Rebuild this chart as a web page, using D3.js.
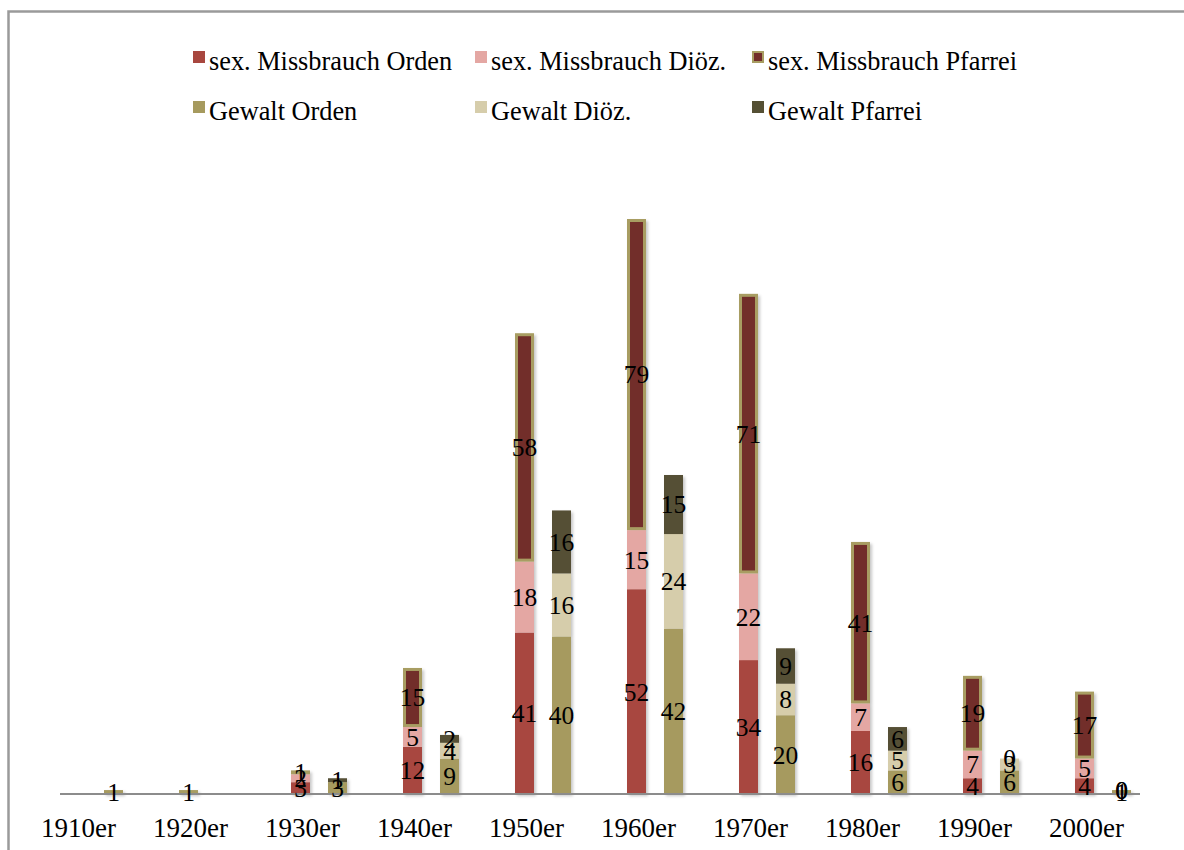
<!DOCTYPE html>
<html>
<head>
<meta charset="utf-8">
<script src="https://cdn.jsdelivr.net/npm/d3@7"></script>
<style>
  html, body { margin: 0; padding: 0; background: #fff; }
  svg { display: block; font-family: "Liberation Serif", "Times New Roman", serif; }
</style>
</head>
<body>
<svg id="chart" width="1184" height="850"></svg>
<script>
// Decades on the category axis
const categories = ["1910er", "1920er", "1930er", "1940er", "1950er", "1960er", "1970er", "1980er", "1990er", "2000er"];

// Sexual abuse, split by institution (null = no entry)
const sexOrden   = [null, null, 3, 12, 41, 52, 34, 16, 4, 4];
const sexDioez   = [null, null, 2, 5, 18, 15, 22, 7, 7, 5];
const sexPfarrei = [null, 1, 1, 15, 58, 79, 71, 41, 19, 17];

// Violence, split by institution
const gewOrden   = [1, null, 3, 9, 40, 42, 20, 6, 6, 1];
const gewDioez   = [null, null, null, 4, 16, 24, 8, 5, 3, 0];
const gewPfarrei = [null, null, 1, 2, 16, 15, 9, 6, 0, 0];

const seriesNames = ["sex. Missbrauch Orden", "sex. Missbrauch Diöz.", "sex. Missbrauch Pfarrei",
                     "Gewalt Orden", "Gewalt Diöz.", "Gewalt Pfarrei"];

const colors = {
  "sex. Missbrauch Orden": "#a8473f",
  "sex. Missbrauch Diöz.": "#e4a7a3",
  "sex. Missbrauch Pfarrei": "#722d2a",
  "Gewalt Orden": "#a69a5e",
  "Gewalt Diöz.": "#d6cdab",
  "Gewalt Pfarrei": "#555034"
};
const pfarreiBorder = "#a89d62";

const stacks = [
  { key: "sex", series: [
    { name: "sex. Missbrauch Orden", values: sexOrden },
    { name: "sex. Missbrauch Diöz.", values: sexDioez },
    { name: "sex. Missbrauch Pfarrei", values: sexPfarrei, border: true }
  ]},
  { key: "gewalt", series: [
    { name: "Gewalt Orden", values: gewOrden },
    { name: "Gewalt Diöz.", values: gewDioez },
    { name: "Gewalt Pfarrei", values: gewPfarrei }
  ]}
];

const svg = d3.select("#chart");
const baseY = 794;

const x = d3.scaleBand().domain(categories).range([20.5, 1140.5]).paddingInner(0).paddingOuter(0);
const xSub = d3.scaleBand().domain(stacks.map(s => s.key)).range([-9.5, 46.5]).paddingInner(18 / 37).paddingOuter(0);
const y = d3.scaleLinear().domain([0, 160]).range([baseY, baseY - 160 * 575 / 146]);

// soft shadow under the bars
const defs = svg.append("defs");
const f = defs.append("filter").attr("id", "shadow").attr("x", "-30%").attr("y", "-10%").attr("width", "160%").attr("height", "130%");
f.append("feDropShadow").attr("dx", 2).attr("dy", 2).attr("stdDeviation", 1.6)
  .attr("flood-color", "#000").attr("flood-opacity", 0.22);

// outer frame
svg.append("path")
  .attr("d", "M8.5,851 V11.5 H1190")
  .attr("fill", "none").attr("stroke", "#9a9a9a").attr("stroke-width", 2.5);

// Build stacked segments
const segments = [];
categories.forEach((cat, i) => {
  stacks.forEach(stack => {
    let cum = 0;
    stack.series.forEach(s => {
      const v = s.values[i];
      if (v === null || v === undefined) return;
      segments.push({ cat, stack: stack.key, name: s.name, value: v, y0: cum, y1: cum + v, border: !!s.border });
      cum += v;
    });
  });
});

const barG = svg.append("g").attr("filter", "url(#shadow)");
const bw = xSub.bandwidth();
const center = c => x(c) + x.bandwidth() / 2;

barG.selectAll("rect.seg")
  .data(segments.filter(d => d.value > 0))
  .join("rect")
  .attr("class", "seg")
  .attr("x", d => center(d.cat) + xSub(d.stack) + (d.border ? 1.5 : 0))
  .attr("width", d => bw - (d.border ? 3 : 0))
  .attr("y", d => y(d.y1) + (d.border ? 1.5 : 0))
  .attr("height", d => Math.max(0, y(d.y0) - y(d.y1) - (d.border ? 3 : 0)))
  .attr("fill", d => colors[d.name])
  .attr("stroke", d => d.border ? pfarreiBorder : "none")
  .attr("stroke-width", d => d.border ? 3 : 0);

// axis line
svg.append("line")
  .attr("x1", 60).attr("x2", 1140)
  .attr("y1", baseY).attr("y2", baseY)
  .attr("stroke", "#8c8c8c").attr("stroke-width", 2);

// value labels in the middle of each segment
svg.append("g").selectAll("text")
  .data(segments)
  .join("text")
  .attr("x", d => center(d.cat) + xSub(d.stack) + bw / 2)
  .attr("y", d => (y(d.y0) + y(d.y1)) / 2)
  .attr("dy", "0.35em")
  .attr("text-anchor", "middle")
  .attr("font-size", 25.5)
  .attr("fill", "#000")
  .text(d => d.value);

// category axis
const axis = d3.axisBottom(x).tickSize(0).tickPadding(24);
const axG = svg.append("g").attr("transform", `translate(2,${baseY})`).call(axis);
axG.select(".domain").remove();
axG.selectAll("text")
  .attr("font-family", "'Liberation Serif', 'Times New Roman', serif")
  .attr("font-size", 27)
  .attr("fill", "#000");

// legend: two rows of three
const legendX = [193, 475, 752];
const legendY = [51, 101];
const lg = svg.append("g");
seriesNames.forEach((name, i) => {
  const col = i % 3, row = Math.floor(i / 3);
  const g = lg.append("g").attr("transform", `translate(${legendX[col]},${legendY[row]})`);
  const isBorder = name === "sex. Missbrauch Pfarrei";
  g.append("rect")
    .attr("x", isBorder ? 1 : 0).attr("y", isBorder ? 1 : 0)
    .attr("width", isBorder ? 10 : 12).attr("height", isBorder ? 10 : 12)
    .attr("fill", colors[name])
    .attr("stroke", isBorder ? pfarreiBorder : "none")
    .attr("stroke-width", isBorder ? 2 : 0);
  g.append("text")
    .attr("x", 16).attr("y", 19)
    .attr("font-size", 26.3)
    .attr("fill", "#000")
    .text(name);
});
</script>
</body>
</html>
